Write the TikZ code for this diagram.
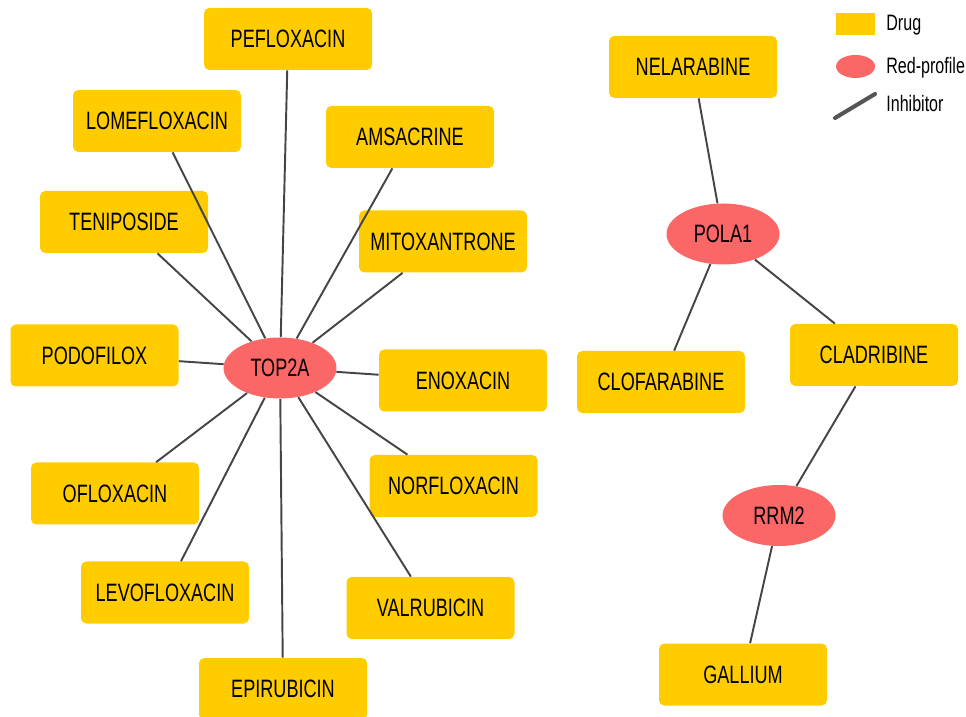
\documentclass[tikz,border=0pt]{standalone}
\usepackage{fontspec}
\setmainfont{Liberation Sans}[FakeStretch=0.72]
\usetikzlibrary{shapes.geometric}
\definecolor{DrugGold}{HTML}{FFCC00}
\definecolor{ProfileRed}{HTML}{FB6666}
\definecolor{EdgeGray}{HTML}{454545}
\definecolor{KeyGray}{HTML}{555555}

\begin{document}
\begin{tikzpicture}[x=1cm,y=1cm,
    drug/.style={rectangle,rounded corners=3pt,fill=DrugGold,draw=none,
      minimum width=3.36cm,minimum height=1.24cm,inner sep=0pt,
      font=\fontsize{14.3}{16}\selectfont},
    gene/.style={ellipse,fill=ProfileRed,draw=none,
      minimum width=2.26cm,minimum height=1.22cm,inner sep=0pt,
      font=\fontsize{14.3}{16}\selectfont},
    inhib/.style={EdgeGray,line width=1.1pt},
    keytext/.style={anchor=west,inner sep=0pt,font=\fontsize{12.7}{14}\selectfont}]
    \useasboundingbox (0,0) rectangle (19.32,14.32);

    % TOP2A cluster
    \node[gene] (top2a) at (5.60,6.96) {TOP2A};
    \node[drug] (pefloxacin) at (5.76,13.54) {PEFLOXACIN};
    \node[drug] (lomefloxacin) at (3.14,11.90) {LOMEFLOXACIN};
    \node[drug] (teniposide) at (2.48,9.88) {TENIPOSIDE};
    \node[drug] (amsacrine) at (8.20,11.58) {AMSACRINE};
    \node[drug] (mitoxantrone) at (8.86,9.49) {MITOXANTRONE};
    \node[drug] (podofilox) at (1.89,7.21) {PODOFILOX};
    \node[drug] (enoxacin) at (9.26,6.71) {ENOXACIN};
    \node[drug] (ofloxacin) at (2.30,4.45) {OFLOXACIN};
    \node[drug] (norfloxacin) at (9.07,4.60) {NORFLOXACIN};
    \node[drug] (levofloxacin) at (3.30,2.47) {LEVOFLOXACIN};
    \node[drug] (valrubicin) at (8.61,2.16) {VALRUBICIN};
    \node[drug] (epirubicin) at (5.66,0.54) {EPIRUBICIN};

    \foreach \d in {pefloxacin,lomefloxacin,teniposide,amsacrine,mitoxantrone,
                    podofilox,enoxacin,ofloxacin,norfloxacin,levofloxacin,
                    valrubicin,epirubicin} {
      \draw[inhib] (top2a) -- (\d);
    }

    % POLA1 / RRM2 cluster
    \node[gene] (pola1) at (14.46,9.64) {POLA1};
    \node[gene] (rrm2) at (15.58,4.01) {RRM2};
    \node[drug] (nelarabine) at (13.86,12.98) {NELARABINE};
    \node[drug] (clofarabine) at (13.22,6.68) {CLOFARABINE};
    \node[drug] (cladribine) at (17.48,7.22) {CLADRIBINE};
    \node[drug] (gallium) at (14.86,0.83) {GALLIUM};

    \foreach \d in {nelarabine,clofarabine,cladribine} {
      \draw[inhib] (pola1) -- (\d);
    }
    \draw[inhib] (rrm2) -- (cladribine);
    \draw[inhib] (rrm2) -- (gallium);

    % legend
    \node[rectangle,fill=DrugGold,minimum width=0.78cm,minimum height=0.44cm,inner sep=0pt]
      (keydrug) at (17.11,13.84) {};
    \node[ellipse,fill=ProfileRed,minimum width=0.78cm,minimum height=0.46cm,inner sep=0pt]
      (keygene) at (17.11,12.99) {};
    \coordinate (keya) at (16.70,11.96);
    \coordinate (keyb) at (17.50,12.44);
    \draw[KeyGray,line width=2.3pt,line cap=round] (keya) -- (keyb);
    \node[keytext] (keydrugtext) at (17.72,13.82) {Drug};
    \node[keytext] (keygenetext) at (17.72,12.96) {Red-profile};
    \node[keytext] (keyinhibtext) at (17.72,12.24) {Inhibitor};
  \end{tikzpicture}
\end{document}
